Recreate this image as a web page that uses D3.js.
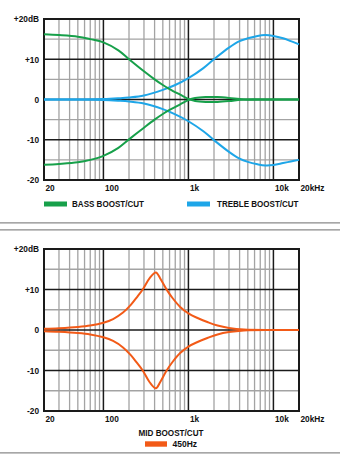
<!DOCTYPE html>
<html><head><meta charset="utf-8">
<script src="https://cdn.jsdelivr.net/npm/d3@7"></script>
<style>
html,body{margin:0;padding:0;background:#fff;}
svg{display:block;}
text{font-family:"Liberation Sans",Arial,sans-serif;font-weight:bold;font-size:8.3px;fill:#111;}
</style></head>
<body><svg id="c" width="340" height="454"></svg>
<script>
// ---- data ----
const freqTicks = [20, 100, 1000, 10000, 20000];
const freqTickLabels = ["20", "100", "1k", "10k", "20kHz"];
const dbTicks = [-20, -10, 0, 10, 20];
const dbTickLabels = ["-20", "-10", "0", "+10", "+20dB"];
const minorFreqs = [30,40,50,60,70,80,90,200,300,400,500,600,700,800,900,2000,3000,4000,5000,6000,7000,8000,9000];
const majorFreqs = [100, 1000, 10000];
const minorDb = [-15, -5, 5, 15];
const majorDb = [-10, 0, 10];

const bassFreq  = [20, 30, 50, 70, 100, 150, 200, 300, 400, 500, 600, 800, 1000, 1200, 1600, 2200, 3000, 4500, 10000, 20000];
const bassBoost = [16.2, 16.0, 15.6, 15.0, 14.2, 12.2, 10.0, 7.0, 5.0, 3.6, 2.6, 1.2, 0.15, -0.35, -0.6, -0.6, -0.4, 0, 0, 0];
const bassCut   = [-16.2, -16.0, -15.6, -15.0, -14.0, -12.0, -9.9, -7.0, -5.0, -3.6, -2.6, -1.2, -0.15, 0.35, 0.6, 0.6, 0.4, 0, 0, 0];

const trebleFreq  = [20, 50, 100, 150, 200, 300, 500, 700, 1000, 1500, 2000, 3000, 4000, 5000, 6500, 8000, 10000, 13000, 16000, 20000];
const trebleBoost = [0, 0, 0.1, 0.3, 0.5, 1.0, 2.4, 3.6, 5.3, 7.8, 10.0, 12.9, 14.5, 15.2, 15.8, 16.0, 15.8, 15.2, 14.5, 13.7];
const trebleCut   = [0, 0, -0.1, -0.3, -0.5, -1.0, -2.4, -3.7, -5.4, -7.9, -10.1, -13.0, -14.7, -15.5, -16.1, -16.4, -16.3, -15.8, -15.4, -15.0];

const midFreq  = [20, 30, 50, 70, 100, 130, 170, 210, 250, 290, 350, 414, 470, 550, 650, 800, 1000, 1300, 1700, 2200, 3000, 4500, 10000, 20000];
const midBoost = [0.3, 0.45, 0.75, 1.1, 1.8, 2.7, 4.3, 6.2, 8.2, 10.0, 12.8, 14.2, 12.6, 10.1, 7.9, 5.7, 4.1, 2.9, 1.9, 1.1, 0.5, 0.1, 0, 0];
const midCut   = [-0.3, -0.45, -0.75, -1.1, -1.8, -2.7, -4.3, -6.2, -8.2, -10.0, -12.9, -14.4, -12.7, -10.1, -7.9, -5.7, -4.1, -2.9, -1.9, -1.1, -0.5, -0.1, 0, 0];

const legendTop = ["BASS BOOST/CUT", "TREBLE BOOST/CUT"];
const legendMidTitle = "MID BOOST/CUT";
const legendMidItem = "450Hz";

const colors = {bass: "#17a04a", treble: "#1ea6e8", mid: "#f25a17"};

// ---- drawing ----
const svg = d3.select("#c");
const x = d3.scaleLog().domain([20, 20000]).range([44, 299]);

function panel(y0, y1, series) {
  const y = d3.scaleLinear().domain([-20, 20]).range([y1, y0]);
  const g = svg.append("g");
  g.selectAll("line.vmin").data(minorFreqs).join("line")
    .attr("x1", d => x(d)).attr("x2", d => x(d)).attr("y1", y0).attr("y2", y1)
    .attr("stroke", "#a3a3a3").attr("stroke-width", 1.3);
  g.selectAll("line.hmin").data(minorDb).join("line")
    .attr("x1", x(20)).attr("x2", x(20000)).attr("y1", d => y(d)).attr("y2", d => y(d))
    .attr("stroke", "#a3a3a3").attr("stroke-width", 1.3);
  g.selectAll("line.vmaj").data(majorFreqs).join("line")
    .attr("x1", d => x(d)).attr("x2", d => x(d)).attr("y1", y0).attr("y2", y1)
    .attr("stroke", "#1a1a1a").attr("stroke-width", 1.5);
  g.selectAll("line.hmaj").data(majorDb).join("line")
    .attr("x1", x(20)).attr("x2", x(20000)).attr("y1", d => y(d)).attr("y2", d => y(d))
    .attr("stroke", "#1a1a1a").attr("stroke-width", 1.5);
  g.append("rect").attr("x", x(20)).attr("y", y(20))
    .attr("width", x(20000) - x(20)).attr("height", y(-20) - y(20))
    .attr("fill", "none").attr("stroke", "#1a1a1a").attr("stroke-width", 2);

  const line = d3.line().x(d => x(d[0])).y(d => y(d[1])).curve(d3.curveCatmullRom.alpha(0.5));
  series.forEach(s => {
    g.append("path").datum(s.f.map((f, i) => [f, s.v[i]]))
      .attr("d", line).attr("fill", "none").attr("stroke", s.c).attr("stroke-width", 2);
  });

  const ya = d3.axisLeft(y).tickValues(dbTicks)
    .tickFormat((d, i) => dbTickLabels[i]).tickSize(0).tickPadding(5);
  const gy = svg.append("g").attr("transform", `translate(${x(20)},0)`).call(ya);
  gy.select(".domain").remove();
  gy.selectAll("text").attr("font-size", null).attr("font-family", null).attr("dy", "0.35em");

  const xa = d3.axisBottom(x).tickValues(freqTicks)
    .tickFormat((d, i) => freqTickLabels[i]).tickSize(0).tickPadding(0);
  const gx = svg.append("g").attr("transform", `translate(0,${y1})`).call(xa);
  gx.select(".domain").remove();
  gx.selectAll("text").attr("font-size", null).attr("font-family", null)
    .attr("text-anchor", "start").attr("x", 1).attr("y", 11).attr("dy", 0);
  return y;
}

panel(19, 180, [
  {f: trebleFreq, v: trebleBoost, c: colors.treble},
  {f: trebleFreq, v: trebleCut, c: colors.treble},
  {f: bassFreq, v: bassBoost, c: colors.bass},
  {f: bassFreq, v: bassCut, c: colors.bass}
]);
panel(249, 411, [
  {f: midFreq, v: midBoost, c: colors.mid},
  {f: midFreq, v: midCut, c: colors.mid}
]);

// legends
function label(tx, ty, str, len, anchor) {
  svg.append("text").attr("x", tx).attr("y", ty).attr("dy", "0.35em")
    .attr("text-anchor", anchor || "start")
    .attr("textLength", len).attr("lengthAdjust", "spacingAndGlyphs").text(str);
}
svg.append("rect").attr("x", 44).attr("y", 201.5).attr("width", 23).attr("height", 5).attr("fill", colors.bass);
label(72, 204.5, legendTop[0], 72);
svg.append("rect").attr("x", 187).attr("y", 201.5).attr("width", 23).attr("height", 5).attr("fill", colors.treble);
label(217, 204.5, legendTop[1], 81.5);

label(138.5, 433, legendMidTitle, 65);
svg.append("rect").attr("x", 145).attr("y", 441.3).attr("width", 22).attr("height", 5.4).attr("fill", colors.mid);
label(172.5, 444, legendMidItem, 24.5);

// separators
[222.8, 229.8, 452.8].forEach(yy => {
  svg.append("line").attr("x1", 0).attr("x2", 340).attr("y1", yy).attr("y2", yy)
    .attr("stroke", "#8a8a8a").attr("stroke-width", 1.3);
});
</script></body></html>
